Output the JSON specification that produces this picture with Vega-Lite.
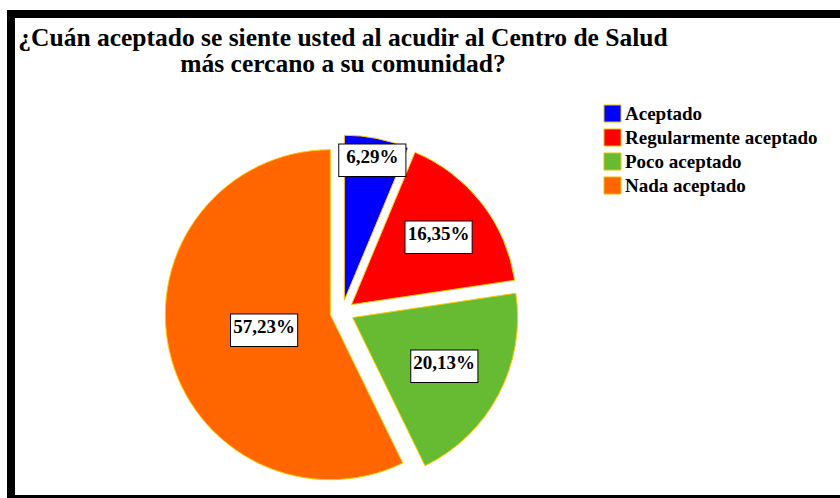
{
  "$schema": "https://vega.github.io/schema/vega-lite/v6.json",
  "width": 839,
  "height": 485,
  "autosize": {"type": "none"},
  "padding": {"left": 11, "top": 14, "right": -10, "bottom": -1},
  "background": "white",
  "title": {
    "text": ["¿Cuán aceptado se siente usted al acudir al Centro de Salud", "más cercano a su comunidad?"],
    "anchor": "start",
    "align": "center",
    "dx": 336,
    "offset": -67,
    "font": "Liberation Serif",
    "fontSize": 25.5,
    "fontWeight": "bold",
    "color": "black",
    "lineHeight": 26
  },
  "data": {
    "values": [
      {"categoria": "Aceptado", "porcentaje": 0.0629, "orden": 1},
      {"categoria": "Regularmente aceptado", "porcentaje": 0.1635, "orden": 2},
      {"categoria": "Poco aceptado", "porcentaje": 0.2013, "orden": 3},
      {"categoria": "Nada aceptado", "porcentaje": 0.5723, "orden": 4}
    ]
  },
  "layer": [
    {
      "data": {"values": [{}]},
      "mark": {"type": "rect", "fill": null, "fillOpacity": 0, "stroke": "black", "strokeWidth": 8},
      "encoding": {}
    },
    {
      "mark": {
        "type": "arc",
        "radius": 165,
        "stroke": "#ffcc00",
        "strokeWidth": 1,
        "x": {"expr": "331 + 12*sin(PI*(datum.porcentaje_start + datum.porcentaje_end))"},
        "y": {"expr": "298 - 12*cos(PI*(datum.porcentaje_start + datum.porcentaje_end))"}
      },
      "encoding": {
        "theta": {"field": "porcentaje", "type": "quantitative", "stack": true},
        "order": {"field": "orden", "type": "quantitative"},
        "color": {
          "field": "categoria",
          "type": "nominal",
          "scale": {
            "domain": ["Aceptado", "Regularmente aceptado", "Poco aceptado", "Nada aceptado"],
            "range": ["#0000ff", "#ff0000", "#66bb33", "#ff6600"]
          },
          "legend": {
            "title": null,
            "orient": "none",
            "legendX": 592,
            "legendY": 90,
            "padding": 0,
            "symbolType": "square",
            "symbolSize": 289,
            "symbolStrokeColor": "#e6c200",
            "symbolStrokeWidth": 1,
            "symbolOpacity": 1,
            "labelFont": "Liberation Serif",
            "labelFontSize": 19,
            "labelFontWeight": "bold",
            "labelColor": "black",
            "labelOffset": 3,
            "rowPadding": 3,
            "labelLimit": 300
          }
        }
      }
    },
    {
      "mark": {
        "type": "text",
        "font": "DejaVu Sans",
        "fontSize": 88,
        "fill": "white",
        "stroke": "black",
        "strokeWidth": 1,
        "align": "center",
        "baseline": "middle",
        "dy": -3,
        "x": {"expr": "331 + 12*sin(PI*(datum.porcentaje_start + datum.porcentaje_end))"},
        "y": {"expr": "298 - 12*cos(PI*(datum.porcentaje_start + datum.porcentaje_end))"},
        "radius": {"expr": "49 - 34*log(datum.porcentaje)"}
      },
      "encoding": {
        "theta": {"field": "porcentaje", "type": "quantitative", "stack": true},
        "order": {"field": "orden", "type": "quantitative"},
        "text": {"value": "▬"}
      }
    },
    {
      "mark": {
        "type": "text",
        "font": "Liberation Serif",
        "fontSize": 19,
        "fontWeight": "bold",
        "color": "black",
        "align": "center",
        "baseline": "middle",
        "dy": -3,
        "x": {"expr": "331 + 12*sin(PI*(datum.porcentaje_start + datum.porcentaje_end))"},
        "y": {"expr": "298 - 12*cos(PI*(datum.porcentaje_start + datum.porcentaje_end))"},
        "radius": {"expr": "49 - 34*log(datum.porcentaje)"}
      },
      "encoding": {
        "theta": {"field": "porcentaje", "type": "quantitative", "stack": true},
        "order": {"field": "orden", "type": "quantitative"},
        "text": {"field": "porcentaje", "type": "quantitative", "format": ".2%"}
      }
    }
  ],
  "config": {
    "locale": {
      "number": {"decimal": ",", "thousands": ".", "grouping": [3], "currency": ["", " €"]}
    },
    "title": {"font": "Liberation Serif", "fontWeight": "bold", "fontSize": 25.5},
    "view": {"stroke": null}
  }
}
